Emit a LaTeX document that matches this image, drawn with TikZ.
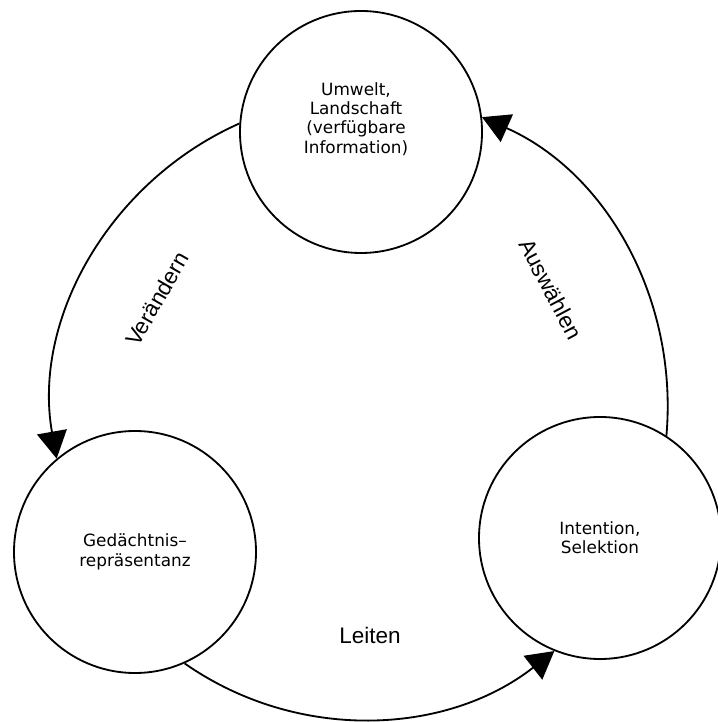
\documentclass[tikz,border=0pt]{standalone}
\usepackage{fontspec}
\setmainfont{Liberation Sans}
\newfontfamily\kreisfont{DejaVu Sans}
\usetikzlibrary{arrows.meta}

\begin{document}
\begin{tikzpicture}[
        kreis/.style={circle,draw,line width=1.3pt,minimum size=6.05cm,inner sep=0pt,align=center,font=\kreisfont\fontsize{12}{13.8}\selectfont},
        pfeil/.style={line width=1.3pt,-{Triangle[length=6.8mm,width=7.5mm]},looseness=0.95},
        wort/.style={font=\fontsize{16}{19}\selectfont}]
                \useasboundingbox (0,0) rectangle (17.925,18.05);
                \node[kreis] (umwelt) at (9.025,14.75) {};
                \node[kreis] (gedaechtnis) at (3.375,4.25) {Gedächtnis–\\repräsentanz};
                \node[kreis] (intention) at (15.0,4.6) {Intention,\\Selektion};
                \node[align=center,font=\kreisfont\fontsize{12}{13.8}\selectfont] (umwelttext) at (8.9,15.075) {Umwelt,\\Landschaft\\(verfügbare\\Information)};
                \draw[pfeil] (umwelt.176) to[out=204,in=100] (gedaechtnis.130);
                \draw[pfeil] (gedaechtnis.294) to[out=-35,in=218] (intention.248);
                \draw[pfeil] (intention.57) to[out=85,in=-24] (umwelt.7);
                \node[wort,rotate=60] (veraendern) at (3.925,10.575) {Verändern};
                \node[wort,rotate=-62] (auswaehlen) at (13.775,10.825) {Auswählen};
                \node[wort] (leiten) at (9.25,2.175) {Leiten};
            \end{tikzpicture}
\end{document}
